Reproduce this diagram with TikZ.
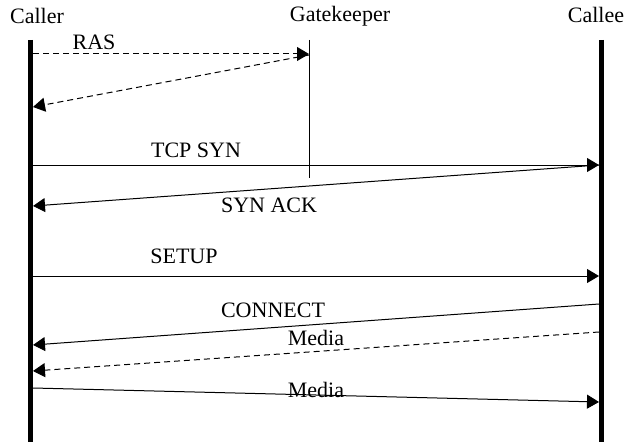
\documentclass[tikz,border=0pt]{standalone}
\usepackage{fontspec}
\setmainfont{Liberation Serif}
\usetikzlibrary{arrows.meta}

\tikzset{
	txt/.style={anchor=base, inner sep=0pt, font=\fontsize{22}{26}\selectfont},
	lifeline/.style={line width=5pt},
	msg/.style={line width=1pt, -{Triangle[length=12pt,width=14pt]}},
	msgdash/.style={msg, dash pattern=on 6pt off 4pt}
}

\begin{document}
\begin{tikzpicture}[x=1pt,y=-1pt]
	\useasboundingbox (0,0) rectangle (624,444);

	% parties
	\node[txt] (caller) at (37,24) {Caller};
	\node[txt] (gk) at (340,22) {Gatekeeper};
	\node[txt] (callee) at (596,23) {Callee};

	% lifelines
	\coordinate (caller top) at (30.5,40);
	\coordinate (caller bot) at (30.5,442);
	\coordinate (gk top) at (309,40);
	\coordinate (gk bot) at (309,178);
	\coordinate (callee top) at (601.5,40);
	\coordinate (callee bot) at (601.5,442);
	\draw[lifeline] (caller top) -- (caller bot);
	\draw[line width=1pt] (gk top) -- (gk bot);
	\draw[lifeline] (callee top) -- (callee bot);

	% RAS request and reply
	\coordinate (ras a) at (33,54);
	\coordinate (ras b) at (309,54);
	\coordinate (ras c) at (309,55);
	\coordinate (ras d) at (33,107);
	\draw[msgdash] (ras a) -- (ras b);
	\draw[msgdash] (ras c) -- (ras d);
	\node[txt] (ras) at (94,50) {RAS};

	% TCP SYN / SYN ACK
	\coordinate (syn a) at (33,165);
	\coordinate (syn b) at (599,165);
	\coordinate (ack a) at (599,165);
	\coordinate (ack b) at (33,206);
	\draw[msg] (syn a) -- (syn b);
	\draw[msg] (ack a) -- (ack b);
	\node[txt] (syn) at (196,157) {TCP SYN};
	\node[txt] (ack) at (269,212) {SYN ACK};

	% SETUP
	\coordinate (setup a) at (33,276);
	\coordinate (setup b) at (599,276);
	\draw[msg] (setup a) -- (setup b);
	\node[txt] (setup) at (184,263) {SETUP};

	% CONNECT
	\coordinate (conn a) at (599,304);
	\coordinate (conn b) at (33,345);
	\draw[msg] (conn a) -- (conn b);
	\node[txt] (conn) at (273,317) {CONNECT};

	% media both ways
	\coordinate (media a) at (599,332);
	\coordinate (media b) at (33,371);
	\draw[msgdash] (media a) -- (media b);
	\node[txt] (media up) at (316,345) {Media};

	\coordinate (media c) at (33,388);
	\coordinate (media d) at (599,402);
	\draw[msg] (media c) -- (media d);
	\node[txt] (media down) at (316,397) {Media};

\end{tikzpicture}
\end{document}
